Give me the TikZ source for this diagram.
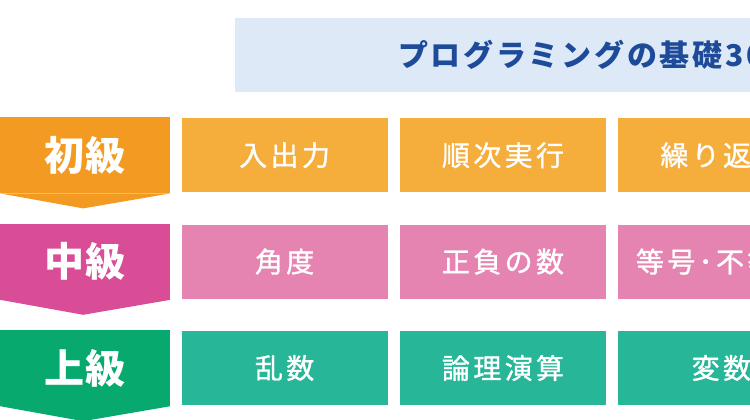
\documentclass[tikz,border=0pt]{standalone}
\usepackage{fontspec}
\setmainfont{Noto Sans CJK JP}
\usetikzlibrary{positioning,calc}
\definecolor{headbg}{HTML}{DDE9F6}
\definecolor{headtxt}{HTML}{1D4B99}
\definecolor{lvlA}{HTML}{F29A22}
\definecolor{boxA}{HTML}{F5AD3B}
\definecolor{lvlB}{HTML}{D84D96}
\definecolor{boxB}{HTML}{E584B0}
\definecolor{lvlC}{HTML}{08A96F}
\definecolor{boxC}{HTML}{27B697}

\begin{document}
\begin{tikzpicture}[x=1pt, y=-1pt, node distance=12pt,
    level/.style={fill=#1, minimum width=170pt, minimum height=76pt, inner sep=0pt,
                  text=white, font=\bfseries\fontsize{40}{40}\selectfont\addfontfeatures{LetterSpace=4}},
    topic/.style={fill=#1, minimum width=206pt, minimum height=74pt, inner sep=0pt,
                  text=white, font=\fontsize{28}{28}\selectfont\addfontfeatures{LetterSpace=12,FakeBold=1.2}}]
    \clip (0,0) rectangle (750,420);
    % header band
    \node[fill=headbg, anchor=north west, minimum width=600pt, minimum height=74pt,
          inner sep=0pt] (head) at (235,18) {};
    \node[anchor=west, inner sep=0pt, text=headtxt,
          font=\bfseries\fontsize{30}{30}\selectfont\addfontfeatures{LetterSpace=9}] (title)
      at (398,55) {プログラミングの基礎30};
    % beginner
    \node[level=lvlA, anchor=north west] (beg) at (0,117) {初級};
    \fill[lvlA] (beg.south west) -- (beg.south east) -- ($(beg.south)+(-2pt,-15pt)$) -- cycle;
    \node[topic=boxA, right=11pt of beg] (io) {入出力};
    \node[topic=boxA, right=of io] (seq) {順次実行};
    \node[topic=boxA, right=of seq] (loop) {繰り返し};
    % intermediate
    \node[level=lvlB, below=30pt of beg] (mid) {中級};
    \fill[lvlB] (mid.south west) -- (mid.south east) -- ($(mid.south)+(-2pt,-15pt)$) -- cycle;
    \node[topic=boxB, right=11pt of mid] (angle) {角度};
    \node[topic=boxB, right=of angle] (sign) {正負の数};
    \node[topic=boxB, right=of sign] (ineq) {等号･不等号};
    % advanced
    \node[level=lvlC, below=30pt of mid] (adv) {上級};
    \fill[lvlC] (adv.south west) -- (adv.south east) -- ($(adv.south)+(-2pt,-15pt)$) -- cycle;
    \node[topic=boxC, right=11pt of adv] (rand) {乱数};
    \node[topic=boxC, right=of rand] (logic) {論理演算};
    \node[topic=boxC, right=of logic] (var) {変数};
\end{tikzpicture}
\end{document}
